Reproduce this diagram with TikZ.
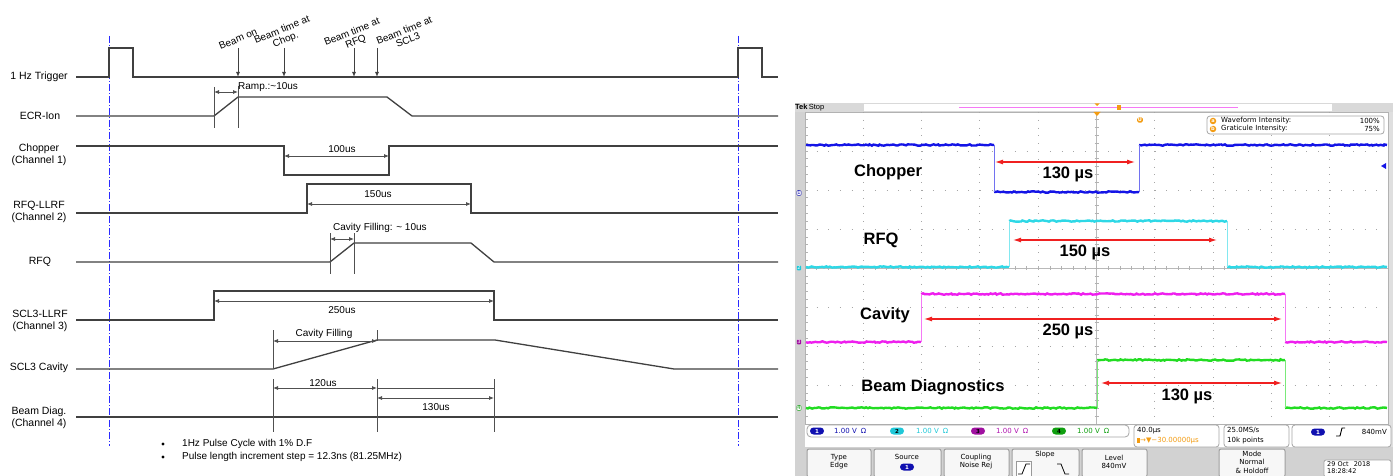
\documentclass[tikz,border=0pt]{standalone}
\usepackage{fontspec}
\setmainfont{Liberation Sans}
\newfontfamily\dvs{DejaVu Sans}
\usetikzlibrary{arrows.meta,decorations.pathmorphing}
\definecolor{sig}{HTML}{404040}
\definecolor{dimc}{HTML}{505050}
\definecolor{vblue}{HTML}{2B2BFF}
\definecolor{c1}{HTML}{1414E6}
\definecolor{c2}{HTML}{2ED8E6}
\definecolor{c3}{HTML}{EE1FEE}
\definecolor{c4}{HTML}{22DC22}
\definecolor{d1}{HTML}{1010B0}
\definecolor{d2}{HTML}{20C8D8}
\definecolor{d3}{HTML}{A010A0}
\definecolor{d4}{HTML}{10A010}
\definecolor{tko}{HTML}{F39C12}
\definecolor{redarrc}{HTML}{F02020}
\begin{document}
\begin{tikzpicture}[x=1pt,y=-1pt,
  sigline/.style={draw=sig, line width=1.3pt},
  tickline/.style={draw=dimc, line width=0.8pt},
  dimarrow/.style={draw=dimc, line width=0.8pt, {Latex[length=5pt,width=4pt]}-{Latex[length=5pt,width=4pt]}},
  beamarrow/.style={draw=sig, line width=1pt, -{Latex[length=5pt,width=4pt]}},
  vdash/.style={draw=vblue, line width=0.9pt, dash pattern=on 7pt off 2pt on 1pt off 2pt},
  lbl/.style={font=\fontsize{10.5}{12.5}\selectfont, align=center, inner sep=0pt},
  slbl/.style={font=\fontsize{10}{12}\selectfont, inner sep=0pt},
  rlbl/.style={font=\fontsize{10}{10}\selectfont, inner sep=0pt, align=center, rotate=22},
  gridh/.style={draw=gray!70, line width=0.9pt, dash pattern=on 0.9pt off 10.76pt},
  gridv/.style={draw=gray!70, line width=0.9pt, dash pattern=on 0.9pt off 6.9pt},
  tr/.style={draw=#1, line width=2.4pt, decorate, decoration={random steps,segment length=2pt,amplitude=0.7pt}},
  edge/.style={draw=#1!60, line width=1pt},
  scl/.style={font=\fontsize{16.5}{18}\selectfont\bfseries, inner sep=0pt},
  redarr/.style={draw=redarrc, line width=1.1pt, {Latex[length=8pt,width=5pt]}-{Latex[length=8pt,width=5pt]}},
  tiny/.style={font=\dvs\fontsize{7}{8}\selectfont, inner sep=0pt},
  oval/.style={rounded corners=3.5pt, minimum width=14pt, minimum height=7pt, inner sep=0pt, font=\dvs\fontsize{5.5}{6}\selectfont\bfseries},
  btn/.style={draw=gray!75, fill=gray!6, line width=1pt, rounded corners=2pt},
  btxt/.style={font=\dvs\fontsize{7}{8}\selectfont, align=center, inner sep=0pt}
]
\useasboundingbox (0,0) rectangle (1393,476);
\fill[white] (0,0) rectangle (1393,476);

% ================= LEFT TIMING DIAGRAM =================
\draw[vdash] (109,36) -- (109,446);
\draw[vdash] (738,36) -- (738,446);

\draw[sigline] (76,77) -- (109,77) -- (109,48) -- (133,48) -- (133,77) -- (738,77) -- (738,48) -- (762,48) -- (762,77) -- (778,77);
\draw[sigline] (76,116) -- (214,116) -- (238,97) -- (387,97) -- (412,116) -- (778,116);
\draw[sigline] (76,146) -- (284,146) -- (284,175) -- (389,175) -- (389,146) -- (778,146);
\draw[sigline] (76,213) -- (307,213) -- (307,184) -- (471,184) -- (471,213) -- (778,213);
\draw[sigline] (76,262) -- (330,262) -- (354,243) -- (471,243) -- (494,262) -- (778,262);
\draw[sigline] (76,320) -- (214,320) -- (214,291) -- (494,291) -- (494,320) -- (778,320);
\draw[sigline] (76,369) -- (273,369) -- (377,340) -- (495,340) -- (674,369) -- (778,369);
\draw[sigline] (76,417) -- (778,417);

\node[lbl] (lt) at (39,77) {1 Hz Trigger};
\node[lbl] (le) at (40,116) {ECR-Ion};
\node[lbl] (lc) at (39,155) {Chopper\\(Channel 1)};
\node[lbl] (lr) at (39,212) {RFQ-LLRF\\(Channel 2)};
\node[lbl] (lq) at (40,262) {RFQ};
\node[lbl] (ls) at (40,321) {SCL3-LLRF\\(Channel 3)};
\node[lbl] (lv) at (39,368) {SCL3 Cavity};
\node[lbl] (lb) at (39,418) {Beam Diag.\\(Channel 4)};

\coordinate (a1t) at (238,48); \coordinate (a1b) at (238,77);
\coordinate (a2t) at (284,48); \coordinate (a2b) at (284,77);
\coordinate (a3t) at (354,48); \coordinate (a3b) at (354,77);
\coordinate (a4t) at (377,48); \coordinate (a4b) at (377,77);
\draw[beamarrow] (a1t) -- (a1b);
\draw[beamarrow] (a2t) -- (a2b);
\draw[beamarrow] (a3t) -- (a3b);
\draw[beamarrow] (a4t) -- (a4b);
\node[rlbl] (b1) at (238,39) {Beam on};
\node[rlbl] (b2) at (284,35) {Beam time at\\Chop.};
\node[rlbl] (b3) at (354,37) {Beam time at\\RFQ};
\node[rlbl] (b4) at (406,35) {Beam time at\\SCL3};

\draw[tickline] (214,87) -- (214,128);
\draw[tickline] (238,86) -- (238,128);
\draw[dimarrow] (214,92) -- (238,92);
\node[slbl, anchor=west] (ramp) at (238,87) {Ramp.:\textasciitilde10us};

\draw[dimarrow] (284,156) -- (389,156);
\node[slbl] (d100) at (342,149) {100us};

\draw[dimarrow] (307,204) -- (471,204);
\node[slbl] (d150) at (378,194) {150us};

\draw[tickline] (330,233) -- (330,274);
\draw[tickline] (354,233) -- (354,274);
\draw[dimarrow] (330,239) -- (354,239);
\node[slbl, anchor=west] (cf1) at (333,228) {Cavity Filling: \textasciitilde{} 10us};

\draw[dimarrow] (214,301) -- (494,301);
\node[slbl] (d250) at (342,310) {250us};

\draw[tickline] (273,330) -- (273,369);
\draw[tickline] (377,330) -- (377,341);
\draw[dimarrow] (273,341) -- (377,341);
\node[slbl] (cf2) at (324,334) {Cavity Filling};

\draw[tickline] (273,379) -- (273,432);
\draw[tickline] (377,379) -- (377,432);
\draw[tickline] (494,379) -- (494,432);
\draw[dimarrow] (273,388) -- (377,388);
\draw[tickline] (377,388) -- (494,388);
\node[slbl] (d120) at (323,383) {120us};
\draw[dimarrow] (377,398) -- (494,398);
\node[slbl] (d130) at (436,407) {130us};

\fill[black] (163,444) circle (1.6pt);
\fill[black] (163,457) circle (1.6pt);
\node[slbl, anchor=west] (n1) at (182,444) {1Hz Pulse Cycle with 1\% D.F};
\node[slbl, anchor=west] (n2) at (182,457) {Pulse length increment step = 12.3ns (81.25MHz)};

% ================= RIGHT OSCILLOSCOPE =================
\fill[gray!35] (795,103) rectangle (1393,476);
\fill[white] (805,112) rectangle (1388,447);
\fill[gray!25] (1388,112) rectangle (1393,447);
\fill[gray!30] (795,103) rectangle (1393,112);
\fill[white] (864,104.5) rectangle (1332,111);
\draw[draw=c3!60, line width=0.9pt] (959,107.5) -- (1238,107.5);
\node[anchor=west, inner sep=0pt, font=\fontsize{7.5}{8}\selectfont] (tek) at (795,107.5) {\textbf{Tek}\,Stop};
\fill[tko] (1094.5,103.5) -- (1099.5,103.5) -- (1097,106) -- cycle;
\fill[tko] (1117,105) rectangle (1121,110.5);
\draw[gray!60, line width=0.8pt] (805,112) rectangle (1388,424);
\foreach \i in {1,...,9} \draw[gridv] ({805+58.3*\i},112) -- ({805+58.3*\i},424);
\foreach \j in {1,...,7} \draw[gridh] (805,{112+39*\j}) -- (1388,{112+39*\j});
\draw[gray!55, line width=0.7pt] (1096.5,112) -- (1096.5,424);
\draw[gray!55, line width=0.7pt] (805,268) -- (1388,268);
\foreach \k in {0,...,49} \draw[gray!60, line width=0.6pt] ({805+11.66*\k},266) -- ({805+11.66*\k},270);
\foreach \k in {0,...,39} \draw[gray!60, line width=0.6pt] (1094.5,{112+7.8*\k}) -- (1098.5,{112+7.8*\k});
\foreach \k in {0,...,39} \draw[gray!60, line width=0.6pt] (805,{112+7.8*\k}) -- (808,{112+7.8*\k});
\fill[tko] (1093.5,112) -- (1100.5,112) -- (1097,116) -- cycle;
\node[fill=tko, rounded corners=1.5pt, inner sep=0.8pt, text=white, font=\dvs\fontsize{5}{5}\selectfont\bfseries] (uo) at (1140,120) {U};

\draw[tr=c1] (806,145) -- (994,145);
\draw[tr=c1] (994,192) -- (1139,192);
\draw[tr=c1] (1139,145) -- (1387,145);
\draw[edge=c1] (994,145) -- (994,192);
\draw[edge=c1] (1139,192) -- (1139,145);
\fill[c1] (1381,166) -- (1386,163) -- (1386,169) -- cycle;

\draw[tr=c2] (806,267) -- (1009,267);
\draw[tr=c2] (1009,221) -- (1227,221);
\draw[tr=c2] (1227,267) -- (1387,267);
\draw[edge=c2] (1009,267) -- (1009,221);
\draw[edge=c2] (1227,221) -- (1227,267);

\draw[tr=c3] (806,342) -- (921,342);
\draw[tr=c3] (921,294) -- (1285,294);
\draw[tr=c3] (1285,342) -- (1387,342);
\draw[edge=c3] (921,342) -- (921,294);
\draw[edge=c3] (1285,294) -- (1285,342);

\draw[tr=c4] (806,408) -- (1097,408);
\draw[tr=c4] (1097,360) -- (1285,360);
\draw[tr=c4] (1285,408) -- (1387,408);
\draw[edge=c4] (1097,408) -- (1097,360);
\draw[edge=c4] (1285,360) -- (1285,408);

\node[draw=d1, fill=white, rounded corners=1pt, inner sep=0.6pt, font=\dvs\fontsize{5}{5}\selectfont, text=d1] (m1) at (799,193) {1};
\node[fill=d2, rounded corners=1pt, inner sep=0.6pt, font=\dvs\fontsize{5}{5}\selectfont, text=white] (m2) at (799,268) {2};
\node[fill=d3, rounded corners=1pt, inner sep=0.6pt, font=\dvs\fontsize{5}{5}\selectfont, text=white] (m3) at (799,342) {3};
\node[draw=d4, fill=white, rounded corners=1pt, inner sep=0.6pt, font=\dvs\fontsize{5}{5}\selectfont, text=d4] (m4) at (799,408) {4};

\draw[draw=gray!70, fill=white, line width=0.8pt, rounded corners=3pt] (1207,116) rectangle (1384,134);
\node[circle, fill=tko, inner sep=0pt, minimum size=6.5pt, text=white, font=\dvs\fontsize{5}{5}\selectfont\bfseries] (ia) at (1213,121) {a};
\node[circle, fill=tko, inner sep=0pt, minimum size=6.5pt, text=white, font=\dvs\fontsize{5}{5}\selectfont\bfseries] (ib) at (1213,129) {b};
\node[tiny, anchor=west] (wi) at (1221,121) {Waveform Intensity:};
\node[tiny, anchor=east] (wv) at (1380,121) {100\%};
\node[tiny, anchor=west] (gi) at (1221,129) {Graticule Intensity:};
\node[tiny, anchor=east] (gv) at (1380,129) {75\%};

\node[scl] (sc1) at (888,172) {Chopper};
\draw[redarr] (995,162) -- (1135,162);
\node[scl] (sc1v) at (1068,174) {130 µs};
\node[scl] (sc2) at (881,240) {RFQ};
\draw[redarr] (1013,240) -- (1217,240);
\node[scl] (sc2v) at (1085,252) {150 µs};
\node[scl] (sc3) at (885,315) {Cavity};
\draw[redarr] (924,319) -- (1282,319);
\node[scl] (sc3v) at (1068,331) {250 µs};
\node[scl] (sc4) at (933,387) {Beam Diagnostics};
\draw[redarr] (1101,383) -- (1282,383);
\node[scl] (sc4v) at (1187,396) {130 µs};

\draw[draw=gray!70, fill=white, line width=0.8pt, rounded corners=4pt] (807,425) rectangle (1129,437);
\node[oval, fill=d1, text=white] (o1) at (817,431) {1};
\node[tiny, anchor=west, text=d1] (t1) at (834,431) {1.00 V\hspace{4pt}Ω};
\node[oval, fill=d2, text=black] (o2) at (897,431) {2};
\node[tiny, anchor=west, text=d2] (t2) at (916,431) {1.00 V\hspace{4pt}Ω};
\node[oval, fill=d3, text=black] (o3) at (978,431) {3};
\node[tiny, anchor=west, text=d3!80!c3] (t3) at (996,431) {1.00 V\hspace{4pt}Ω};
\node[oval, fill=d4, text=black] (o4) at (1059,431) {4};
\node[tiny, anchor=west, text=d4] (t4) at (1077,431) {1.00 V\hspace{4pt}Ω};

\draw[draw=gray!70, fill=white, line width=0.8pt, rounded corners=3pt] (1134,425) rectangle (1219,447);
\node[tiny, anchor=west] (tb) at (1137,430.5) {40.0µs};
\node[tiny, anchor=west, text=tko] (tpos) at (1137,441) {\rule{3pt}{5pt}→▼−30.00000µs};
\draw[draw=gray!70, fill=white, line width=0.8pt, rounded corners=3pt] (1224,425) rectangle (1289,447);
\node[tiny, anchor=west] (sr) at (1227,430.5) {25.0MS/s};
\node[tiny, anchor=west] (rl) at (1227,441) {10k points};
\draw[draw=gray!70, fill=white, line width=0.8pt, rounded corners=3pt] (1292,425) rectangle (1391,447);
\node[oval, fill=d1, text=white] (ot) at (1318,432) {1};
\draw[black, line width=0.9pt] (1336,436) -- (1340,436) -- (1342,428) -- (1345,428);
\node[tiny, anchor=east] (lvv) at (1387,432) {840mV};

\draw[btn] (807,449) rectangle (871,477);
\node[btxt] (bt1) at (839,462) {Type\\Edge};
\draw[btn] (874,449) rectangle (941,477);
\node[btxt] (bt2) at (907,457) {Source};
\node[oval, fill=d1, text=white] (bt2o) at (907,467) {1};
\draw[btn] (944,449) rectangle (1009,477);
\node[btxt] (bt3) at (976,462) {Coupling\\Noise Rej};
\draw[btn] (1012,449) rectangle (1079,477);
\node[btxt] (bt4) at (1045,455) {Slope};
\draw[draw=gray!80, fill=white, line width=0.8pt] (1016,461) rectangle (1031,477);
\draw[black, line width=0.8pt] (1018,474) -- (1022,474) -- (1026,464) -- (1030,464);
\draw[black, line width=0.8pt] (1057,464) -- (1061,464) -- (1065,474) -- (1069,474);
\draw[btn] (1082,449) rectangle (1147,477);
\node[btxt] (bt5) at (1114,462) {Level\\840mV};
\draw[btn] (1219,449) rectangle (1285,477);
\node[btxt, font=\dvs\fontsize{7}{8.5}\selectfont] (bt6) at (1252,462) {Mode\\Normal\\\& Holdoff};
\draw[draw=gray!70, fill=white, line width=0.8pt, rounded corners=2pt] (1324,460) rectangle (1391,477);
\node[btxt, align=left, anchor=west, font=\dvs\fontsize{6.5}{7}\selectfont] (dt) at (1327,468) {29 Oct\hspace{5pt}2018\\18:28:42};
\end{tikzpicture}
\end{document}
